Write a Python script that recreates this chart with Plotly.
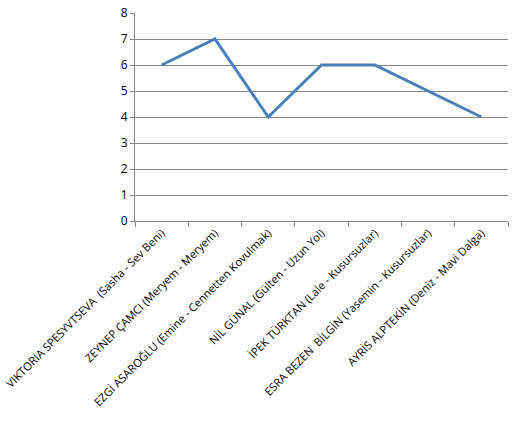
import plotly.graph_objects as go

# Oyuncu (karakter - dizi) ve puanları
actresses = [
    "VIKTORIA SPESYVTSEVA  (Sasha - Sev Beni)",
    "ZEYNEP ÇAMCI (Meryem - Meryem)",
    "EZGİ ASAROĞLU (Emine - Cennetten Kovulmak)",
    "NİL GÜNAL (Gülten - Uzun Yol)",
    "İPEK TÜRKTAN (Lale - Kusursuzlar)",
    "ESRA BEZEN  BİLGİN (Yasemin - Kusursuzlar)",
    "AYRİS ALPTEKİN (Deniz - Mavi Dalga)",
]
scores = [6, 7, 4, 6, 6, 5, 4]
y_ticks = [0, 1, 2, 3, 4, 5, 6, 7, 8]

fig = go.Figure(go.Scatter(
    x=actresses, y=scores,
    mode="lines",
    line=dict(color="#4A7EBB", width=3),
    hoverinfo="skip",
))

fig.update_layout(
    width=518, height=429,
    margin=dict(l=135, r=10, t=13, b=208),
    paper_bgcolor="white", plot_bgcolor="white",
    showlegend=False,
    font=dict(family="Open Sans, Noto Sans, sans-serif", size=11, color="black"),
    xaxis=dict(
        type="category",
        range=[-0.5, len(actresses) - 0.5],
        tickangle=-45,
        ticks="outside", ticklen=5, tickcolor="#868686",
        tickson="boundaries",
        showline=True, linecolor="#868686", linewidth=1,
        showgrid=False,
        automargin=False,
        tickfont=dict(size=11.2),
    ),
    yaxis=dict(
        range=[0, 8],
        tickvals=y_ticks,
        ticks="outside", ticklen=4, tickcolor="#868686",
        showline=True, linecolor="#868686", linewidth=1,
        showgrid=True, gridcolor="#868686", gridwidth=1,
        zeroline=False,
        automargin=False,
        tickfont=dict(size=12),
    ),
)

# drop the default 8px body margin so the figure sits at the page corner
fig.write_html("out.html", config={"displayModeBar": False},
               post_script="document.body.style.margin = '0';")
